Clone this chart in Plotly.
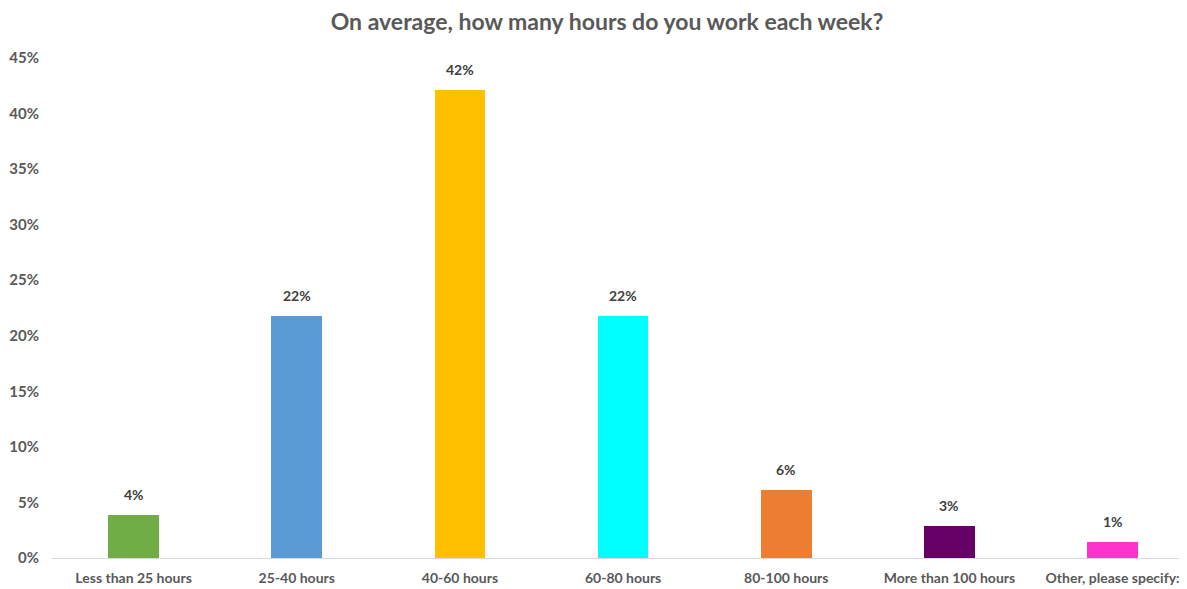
import plotly.graph_objects as go

categories = ["Less than 25 hours", "25-40 hours", "40-60 hours", "60-80 hours",
              "80-100 hours", "More than 100 hours", "Other, please specify:"]
values = [0.039, 0.218, 0.421, 0.218, 0.061, 0.029, 0.014]
colors = ["#70AD47", "#5B9BD5", "#FFC000", "#00FFFF", "#ED7D31", "#660066", "#FF33CC"]
tick_vals = [0, 0.05, 0.10, 0.15, 0.20, 0.25, 0.30, 0.35, 0.40, 0.45]

xs = list(range(len(categories)))
fig = go.Figure(go.Bar(
    x=xs, y=values,
    marker=dict(color=colors, line=dict(width=0)),
    width=0.31,
))

for x, v in zip(xs, values):
    fig.add_annotation(x=x, y=v, text="<b>%d%%</b>" % round(v * 100),
                       showarrow=False, yanchor="bottom", yshift=10,
                       font=dict(family="Lato", size=14, color="#404040"))

fig.update_layout(
    width=1187, height=589,
    margin=dict(l=44, r=8, t=50, b=39, autoexpand=False),
    paper_bgcolor="white", plot_bgcolor="white",
    title=dict(text="<b>On average, how many hours do you work each week?</b>",
               x=599 / 1187, xanchor="center", y=1 - 14 / 589, yanchor="middle",
               xref="container", yref="container", automargin=False,
               font=dict(family="Lato", size=23, color="#595959")),
    showlegend=False,
    bargap=0,
)
fig.update_xaxes(
    range=[-0.5, 6.456], tickmode="array", tickvals=xs,
    ticktext=["<b>%s</b>" % c for c in categories],
    tickfont=dict(family="Lato", size=14, color="#595959"),
    showgrid=False, zeroline=False, showline=True, linecolor="#D9D9D9", linewidth=1,
    ticks="", ticklen=0, automargin=False, ticklabelstandoff=7,
)
fig.update_yaxes(
    range=[0, 0.45], tickmode="array", tickvals=tick_vals,
    ticktext=["<b>%d%%</b>" % round(v * 100) for v in tick_vals],
    tickfont=dict(family="Lato", size=15, color="#595959"),
    showgrid=False, zeroline=False, showline=False, ticks="", ticklabelstandoff=12,
    automargin=False,
)

fig.write_html("out.html")
